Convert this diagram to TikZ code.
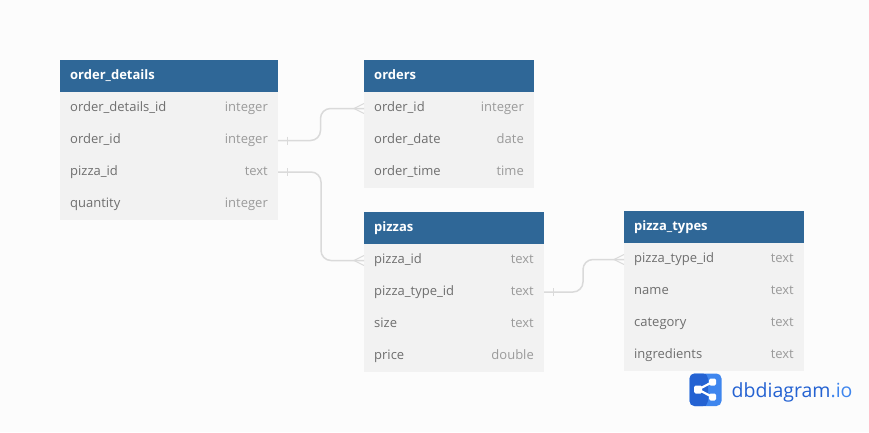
\documentclass[tikz,border=0pt]{standalone}
\usepackage{fontspec}
\setmainfont{Open Sans}
\usetikzlibrary{calc}
\definecolor{pagebg}{HTML}{FCFCFC}
\definecolor{headblue}{HTML}{2F6797}
\definecolor{rowbg}{HTML}{F2F2F2}
\definecolor{fieldtxt}{HTML}{6E6E6E}
\definecolor{typetxt}{HTML}{9A9A9A}
\definecolor{linkgrey}{HTML}{DADADA}
\definecolor{logodark}{HTML}{2462D2}
\definecolor{logolight}{HTML}{3F86EE}
\tikzset{
  x=1pt,y=-1pt,
  headbox/.style={draw=none,fill=headblue,text=white,anchor=north west,minimum height=32pt,inner sep=0pt,outer sep=0pt,text height=9.5pt,text depth=2.5pt,align=left,font=\fontsize{13}{15}\selectfont\bfseries},
  rowbox/.style={draw=none,fill=rowbg,anchor=north west,minimum height=32pt,inner sep=0pt,outer sep=0pt},
  fieldtxtnode/.style={anchor=west,text=fieldtxt,inner sep=0pt,text height=9.5pt,text depth=2.5pt,font=\fontsize{13}{15}\selectfont},
  typetxtnode/.style={anchor=east,text=typetxt,inner sep=0pt,text height=9.5pt,text depth=2.5pt,font=\fontsize{13}{15}\selectfont},
  linkline/.style={draw=linkgrey,line width=1.5pt,rounded corners=10pt},
  linkmark/.style={draw=linkgrey,line width=1pt},
}
% #1 name, #2 x, #3 y, #4 width, #5 field, #6 type
\newcommand{\dbrow}[6]{%
  \node[rowbox,minimum width=#4pt] (#1) at (#2,#3) {};
  \node[fieldtxtnode] (#1f) at ($(#1.west)+(10,0)$) {#5};
  \node[typetxtnode] (#1t) at ($(#1.east)+(-10,0)$) {#6};
}
% #1 name, #2 x, #3 y, #4 width, #5 title
\newcommand{\dbhead}[5]{%
  \node[headbox,minimum width=#4pt] (#1) at (#2,#3) {};
  \node[anchor=west,text=white,inner sep=0pt,text height=9.5pt,text depth=2.5pt,font=\fontsize{13}{15}\selectfont\bfseries] (#1l) at ($(#1.west)+(10,0)$) {#5};
}
\begin{document}
\begin{tikzpicture}
\useasboundingbox (0,0) rectangle (869,432);
\fill[pagebg] (0,0) rectangle (869,432);

\dbhead{od}{60}{60}{218}{order\_details}
\dbrow{oda}{60}{92}{218}{order\_details\_id}{integer}
\dbrow{odb}{60}{124}{218}{order\_id}{integer}
\dbrow{odc}{60}{156}{218}{pizza\_id}{text}
\dbrow{odd}{60}{188}{218}{quantity}{integer}

\dbhead{or}{364}{60}{170}{orders}
\dbrow{ora}{364}{92}{170}{order\_id}{integer}
\dbrow{orb}{364}{124}{170}{order\_date}{date}
\dbrow{orc}{364}{156}{170}{order\_time}{time}

\dbhead{pz}{364}{212}{180}{pizzas}
\dbrow{pza}{364}{244}{180}{pizza\_id}{text}
\dbrow{pzb}{364}{276}{180}{pizza\_type\_id}{text}
\dbrow{pzc}{364}{308}{180}{size}{text}
\dbrow{pzd}{364}{340}{180}{price}{double}

\dbhead{pt}{624}{211}{180}{pizza\_types}
\dbrow{pta}{624}{243}{180}{pizza\_type\_id}{text}
\dbrow{ptb}{624}{275}{180}{name}{text}
\dbrow{ptc}{624}{307}{180}{category}{text}
\dbrow{ptd}{624}{339}{180}{ingredients}{text}

\coordinate (m1) at (320.5,0);
\coordinate (m2) at (321,0);
\coordinate (m3) at (583,0);
\coordinate (t1) at (287,0);
\coordinate (t2) at (287,0);
\coordinate (t3) at (553,0);

% connectors
\draw[linkline] ($(odb.east)+(0,0.5)$) -- ($(m1 |- odb.east)+(0,0.5)$) -- ($(m1 |- ora.west)+(0,0.5)$) -- ($(ora.west)+(0,0.5)$);
\draw[linkline] (odc.east) -- (m2 |- odc.east) -- ($(m2 |- pza.west)+(0,0.5)$) -- ($(pza.west)+(0,0.5)$);
\draw[linkline] (pzb.east) -- (m3 |- pzb.east) -- ($(m3 |- pta.west)+(0,0.5)$) -- ($(pta.west)+(0,0.5)$);

% one-side ticks
\draw[linkmark] ($(t1 |- odb.east)+(0,-3.5)$) -- ($(t1 |- odb.east)+(0,4.5)$);
\draw[linkmark] ($(t2 |- odc.east)+(0,-4)$) -- ($(t2 |- odc.east)+(0,4)$);
\draw[linkmark] ($(t3 |- pzb.east)+(0,-4)$) -- ($(t3 |- pzb.east)+(0,4)$);

% crow's feet
\draw[linkmark] ($(ora.west)+(0,-4.5)$) -- ($(ora.west)+(-10,0.5)$) -- ($(ora.west)+(0,5.5)$);
\draw[linkmark] ($(pza.west)+(0,-4.5)$) -- ($(pza.west)+(-10,0.5)$) -- ($(pza.west)+(0,5.5)$);
\draw[linkmark] ($(pta.west)+(0,-4.5)$) -- ($(pta.west)+(-10,0.5)$) -- ($(pta.west)+(0,5.5)$);

% logo
\fill[logolight,rounded corners=5pt] (689.5,373.5) rectangle (721.5,406);
\fill[logodark,rounded corners=5pt] (689.5,373.5) rectangle (708,406);
\fill[logodark] (703,373.5) rectangle (706,406);
\draw[white,line width=2.2pt] (712.5,382) -- (698,389.5) -- (712.5,397);
\fill[white,rounded corners=1.5pt] (694,385.5) rectangle (702,393.5);
\fill[white,rounded corners=1.5pt] (709,378.5) rectangle (716,385.5);
\fill[white,rounded corners=1.5pt] (709,393.5) rectangle (716,400.5);
\node[anchor=base west,inner sep=0pt,font=\fontsize{19.5}{24}\selectfont] (logotext) at (731.5,397.5) {\textcolor{logodark}{dbdiagram}\textcolor{logolight}{.io}};
\end{tikzpicture}
\end{document}
